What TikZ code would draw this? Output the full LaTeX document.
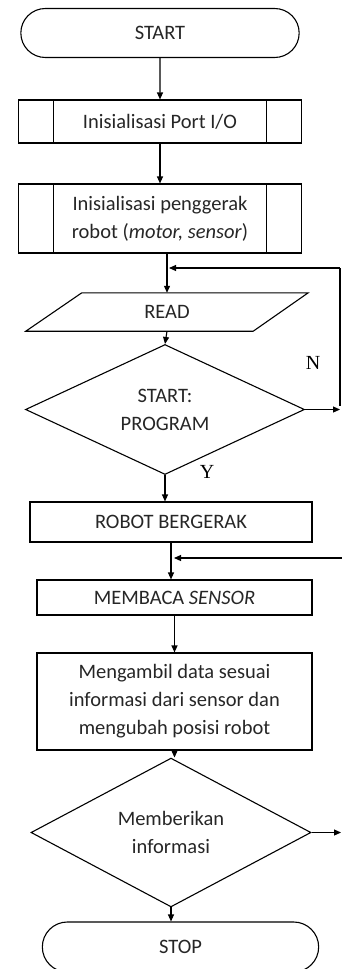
\documentclass[tikz,border=0pt]{standalone}
\usepackage{fontspec}
\setmainfont{Carlito}
\newfontfamily\labelfont{Liberation Serif}
\usetikzlibrary{shapes.geometric,shapes.misc,arrows.meta}

\begin{document}
\begin{tikzpicture}[x=1pt,y=-1pt,
    every node/.style={font=\fontsize{20.5}{28}\selectfont, text=black!85, align=center},
    arr/.style={-{Triangle[length=7pt,width=6pt]}, line width=1.1pt},
    terminal/.style={draw, rounded rectangle, line width=1.1pt, minimum width=285, minimum height=49},
    predef/.style={draw, line width=1.1pt, minimum width=283, inner sep=0,
        path picture={
            \draw[line width=1.1pt] ([xshift=35pt]path picture bounding box.north west) -- ([xshift=35pt]path picture bounding box.south west);
            \draw[line width=1.1pt] ([xshift=-35pt]path picture bounding box.north east) -- ([xshift=-35pt]path picture bounding box.south east);
        }},
    process/.style={draw, line width=1.1pt, inner sep=0},
    decision/.style={draw, diamond, line width=1.1pt, inner sep=0},
    yn/.style={font=\labelfont\fontsize{20}{20}\selectfont, text=black}]
    \useasboundingbox (0,0) rectangle (342,969);
    \clip (0,0) rectangle (342,969);

    \node[terminal] (start) at (160,33) {START};
    \node[predef, minimum height=43] (init1) at (160,121.5) {Inisialisasi Port I/O};
    \node[predef, minimum height=69] (init2) at (160,218.5) {Inisialisasi penggerak\\robot (\textit{motor, sensor})};
    \node[minimum width=282, minimum height=38, inner sep=0] (read) at (167,312) {READ};
    \draw[line width=1.1pt] ([xshift=56pt]read.north west) -- (read.north east)
        -- ([xshift=-55pt]read.south east) -- (read.south west) -- cycle;
    \node[decision, minimum width=279, minimum height=125] (dec1) at (165,409.5) {START:\\PROGRAM};
    \node[process, minimum width=282, minimum height=40] (gerak) at (171,522) {ROBOT BERGERAK};
    \node[process, minimum width=275, minimum height=35] (baca) at (174.5,597.5) {MEMBACA \textit{SENSOR}};
    \node[process, minimum width=275, minimum height=97] (ambil) at (174.5,701.5) {Mengambil data sesuai\\informasi dari sensor dan\\mengubah posisi robot};
    \node[decision, minimum width=280, minimum height=121] (dec2) at (171,832.5) {Memberikan\\informasi};
    \node[terminal, minimum width=283, minimum height=50] (stop) at (180.5,947) {STOP};

    \node[yn] (nlab) at (313,363) {N};
    \node[yn] (ylab) at (207,472) {Y};

    \coordinate (loopa) at (340,409.5);
    \coordinate (loopb) at (340,268);
    \coordinate (inbaca) at (342,558);
    \coordinate (outdec) at (341,832.5);

    \draw[arr] (start) -- (init1);
    \draw[arr] (init1) -- (init2);
    \draw[arr] (init2.south -| read.north) -- (read.north);
    \draw[arr] (read.south) -- (dec1.north);
    \draw[arr] (dec1.south) -- (dec1.south |- gerak.north);
    \draw[arr] (gerak.south) -- (gerak.south |- baca.north);
    \draw[arr] (baca.south) -- (baca.south |- ambil.north);
    \draw[arr] (ambil.south) -- (ambil.south |- dec2.north);
    \draw[arr] (dec2.south) -- (dec2.south |- stop.north);

    % loop back when not started
    \draw[arr] (dec1.east) -- (loopa);
    \draw[line width=1.1pt] ([yshift=4]loopa) -- (loopb);
    \draw[arr, shorten >=2pt] (loopb) -- (loopb -| read.north);
    \draw[arr, shorten >=3pt] (inbaca) -- (inbaca -| gerak.south);
    \draw[arr] (dec2.east) -- (outdec);
\end{tikzpicture}
\end{document}
